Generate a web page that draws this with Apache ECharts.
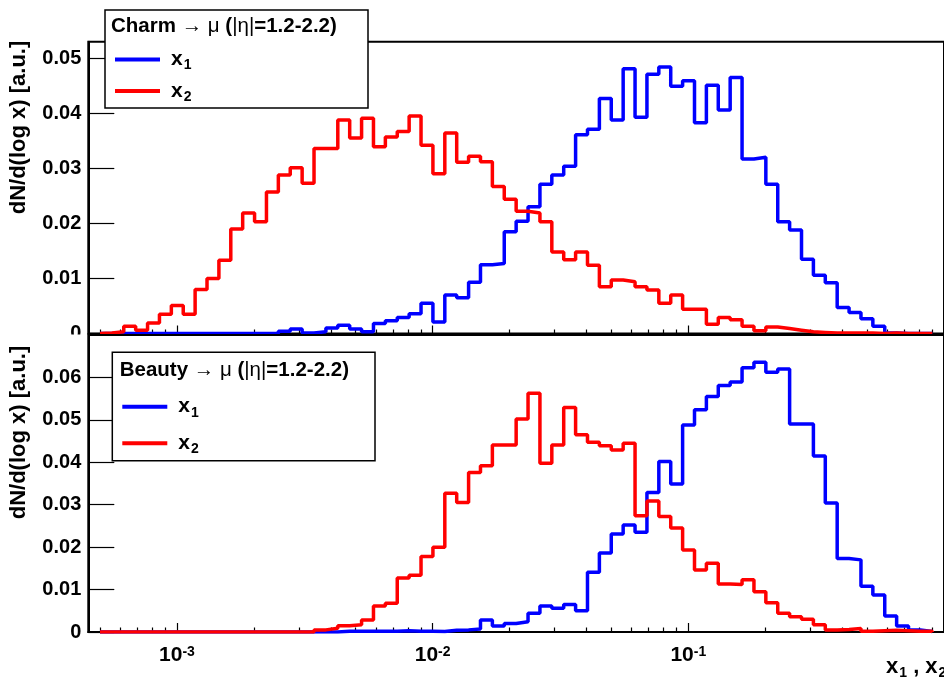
<!DOCTYPE html>
<html><head><meta charset="utf-8">
<script src="https://cdn.jsdelivr.net/npm/echarts@6/dist/echarts.min.js"></script>
<style>html,body{margin:0;padding:0;background:#fff}#c{width:944px;height:683px}</style>
</head><body><div id="c"></div>
<script>
// ---- binning / axis ranges ----
const axisXMin = 4.5e-4, axisXMax = 1;
const binLow = 5e-4, binHigh = 0.9, nBins = 70;
const topYMax = 0.053, bottomYMax = 0.07;
const xMajorTicks = [-3, -2, -1, 0];
const xLabelTicks = [-3, -2, -1];
const topYLabels = [0, 0.01, 0.02, 0.03, 0.04, 0.05];
const bottomYLabels = [0, 0.01, 0.02, 0.03, 0.04, 0.05, 0.06];

// ---- data (bin contents, 70 log-uniform bins from 5e-4 to 0.9) ----
const charmX1 = [0,0,0,0,0,0,0,0,0,0, 0,0,0,0,0,0.0004,0.0008,0.0001,0.0003,0.0010,
  0.0015,0.0008,0.0003,0.0018,0.0023,0.0029,0.0036,0.0055,0.0021,0.0070,
  0.0065,0.0093,0.0125,0.0127,0.0185,0.0204,0.0230,0.0271,0.0288,0.0304,
  0.0361,0.0371,0.0427,0.0388,0.0481,0.0393,0.0471,0.0484,0.0449,0.0459,
  0.0383,0.0451,0.0406,0.0465,0.0317,0.0320,0.0271,0.0203,0.0188,0.0135,
  0.0106,0.0092,0.0047,0.0038,0.0027,0.0013,0.0001,0,0,0];
const charmX2 = [0.0001,0.0003,0.0013,0.0006,0.0019,0.0035,0.0051,0.0035,0.0080,0.0100,
  0.0133,0.0190,0.0219,0.0203,0.0257,0.0288,0.0301,0.0273,0.0336,0.0336,
  0.0388,0.0355,0.0391,0.0339,0.0357,0.0367,0.0395,0.0342,0.0290,0.0364,
  0.0311,0.0322,0.0312,0.0267,0.0244,0.0222,0.0219,0.0203,0.0148,0.0134,
  0.0148,0.0124,0.0085,0.0097,0.0094,0.0085,0.0079,0.0055,0.0070,0.0044,
  0.0044,0.0017,0.0029,0.0025,0.0013,0.0005,0.0012,0.0009,0.0006,0.0003,
  0.0002,0.0001,0.0001,0.0001,0.0001,0,0.0001,0,0,0];
const beautyX1 = [0,0,0,0,0,0,0,0,0,0, 0,0,0,0,0,0,0,0,0,0,
  0.0002,0.0002,0.0002,0.0002,0.0002,0.0003,0.0002,0.0002,0.0001,0.0004,
  0.0005,0.0007,0.0028,0.0014,0.0020,0.0024,0.0044,0.0061,0.0056,0.0065,
  0.0050,0.0141,0.0186,0.0231,0.0252,0.0235,0.0329,0.0402,0.0349,0.0488,
  0.0524,0.0555,0.0581,0.0589,0.0623,0.0636,0.0612,0.0620,0.0490,0.0490,
  0.0415,0.0304,0.0173,0.0170,0.0108,0.0087,0.0038,0.0014,0.0005,0.0001];
const beautyX2 = [0,0,0,0,0,0,0,0,0,0, 0,0,0,0,0,0,0,0,0.0005,0.0009,
  0.0015,0.0017,0.0028,0.0061,0.0068,0.0127,0.0134,0.0178,0.0200,0.0327,
  0.0305,0.0376,0.0392,0.0441,0.0441,0.0502,0.0563,0.0398,0.0441,0.0529,
  0.0465,0.0447,0.0439,0.0429,0.0445,0.0274,0.0309,0.0272,0.0245,0.0193,
  0.0146,0.0162,0.0113,0.0112,0.0123,0.0095,0.0069,0.0044,0.0036,0.0030,
  0.0017,0.0005,0.0006,0.0008,0.0002,0.0003,0.0004,0.0003,0.0002,0.0002];

const legendTitleTop = 'Charm';
const legendTitleBottom = 'Beauty';
const yTitle = 'dN/d(log x) [a.u.]';

// ---- helpers ----
const lg = Math.log10;
const lo = lg(binLow), hi = lg(binHigh), w = (hi - lo) / nBins;
function histData(vals) {
  const d = [[lo, 0]];
  vals.forEach((v, i) => d.push([lo + i * w, v]));
  d.push([lo + nBins * w, vals[vals.length - 1]]);
  d.push([lo + nBins * w, 0]);
  return d;
}
const minorX = [];
for (let e = -4; e <= -1; e++) for (let k = 2; k <= 9; k++) {
  const v = lg(k * Math.pow(10, e));
  if (v > lg(axisXMin) && v < lg(axisXMax)) minorX.push(v);
}
function minorY(max) { const a = []; for (let v = 0.002; v < max - 1e-9; v += 0.002) a.push(+v.toFixed(4)); return a; }

const FONT = "'Liberation Sans', Arial, Helvetica, sans-serif";
const black = '#000';

function xAxes(grid, withLabels, majLen, minLen, z) {
  return [{
    type: 'value', gridIndex: grid, min: lg(axisXMin), max: lg(axisXMax), position: 'bottom', z: z,
    axisLine: { show: true, onZero: false, lineStyle: { color: black, width: 2 } },
    axisTick: { show: true, inside: true, length: majLen, customValues: xMajorTicks, lineStyle: { color: black, width: 1.2 } },
    axisLabel: withLabels ? {
      show: true, customValues: xLabelTicks, margin: 13, color: black,
      formatter: v => '{b|10}{s|' + Math.round(v) + '}',
      rich: { b: { fontSize: 21, fontWeight: 'bold', fontFamily: FONT, color: black },
              s: { fontSize: 14, fontWeight: 'bold', fontFamily: FONT, color: black, verticalAlign: 'top' } }
    } : { show: false },
    splitLine: { show: false }
  }, {
    type: 'value', gridIndex: grid, min: lg(axisXMin), max: lg(axisXMax), position: 'bottom', z: z,
    axisLine: { show: false },
    axisTick: { show: true, inside: true, length: minLen, customValues: minorX, lineStyle: { color: black, width: 1.2 } },
    axisLabel: { show: false }, splitLine: { show: false }
  }];
}
function yAxes(grid, max, labels, z) {
  return [{
    type: 'value', gridIndex: grid, min: 0, max: max, position: 'left', z: z,
    axisLine: { show: true, onZero: false, lineStyle: { color: black, width: 2 } },
    axisTick: { show: true, inside: true, length: 26, customValues: labels, lineStyle: { color: black, width: 1.2 } },
    axisLabel: { show: true, customValues: labels, margin: 7, color: black, fontSize: 20, fontWeight: 'bold', fontFamily: FONT,
      formatter: v => (v === 0 ? '0' : v.toFixed(2)) },
    splitLine: { show: false }
  }, {
    type: 'value', gridIndex: grid, min: 0, max: max, position: 'left', z: z,
    axisLine: { show: false },
    axisTick: { show: true, inside: true, length: 12.5, customValues: minorY(max), lineStyle: { color: black, width: 1.2 } },
    axisLabel: { show: false }, splitLine: { show: false }
  }];
}

function legendGroup(x, y, wd, ht, title, tx, ty, l1y, l2y, z) {
  const sx0 = x + 10, sx1 = x + 55, tX = x + 66;
  return { type: 'group', z: z, children: [
    { type: 'rect', z: z, shape: { x: x, y: y, width: wd, height: ht }, style: { fill: '#fff', stroke: black, lineWidth: 1.5 } },
    { type: 'text', z: z + 1, x: tx, y: ty, style: {
        text: '{b|' + title + ' }{n|→ μ }{b|(}{n||η|}{b|=1.2-2.2)}', verticalAlign: 'middle',
        rich: { b: { fontSize: 20.5, fontWeight: 'bold', fontFamily: FONT, fill: black },
                n: { fontSize: 20.5, fontFamily: FONT, fill: black } } } },
    { type: 'line', z: z + 1, shape: { x1: sx0, y1: l1y, x2: sx1, y2: l1y }, style: { stroke: '#0000ff', lineWidth: 4 } },
    { type: 'text', z: z + 1, x: tX, y: l1y, style: { text: '{b|x}{s|1}', verticalAlign: 'middle',
        rich: { b: { fontSize: 21, fontWeight: 'bold', fontFamily: FONT, fill: black }, s: { fontSize: 14, fontWeight: 'bold', fontFamily: FONT, fill: black, padding: [12, 0, 0, 1] } } } },
    { type: 'line', z: z + 1, shape: { x1: sx0, y1: l2y, x2: sx1, y2: l2y }, style: { stroke: '#ff0000', lineWidth: 4 } },
    { type: 'text', z: z + 1, x: tX, y: l2y, style: { text: '{b|x}{s|2}', verticalAlign: 'middle',
        rich: { b: { fontSize: 21, fontWeight: 'bold', fontFamily: FONT, fill: black }, s: { fontSize: 14, fontWeight: 'bold', fontFamily: FONT, fill: black, padding: [12, 0, 0, 1] } } } }
  ]};
}

const chart = echarts.init(document.getElementById('c'), null, { renderer: 'canvas' });
const gridLeft = 88.3, gridWidth = 860.8;
chart.setOption({
  animation: false,
  backgroundColor: '#fff',
  grid: [
    { left: gridLeft, top: 41.7, width: gridWidth, height: 291.8, show: true, borderColor: black, borderWidth: 2, backgroundColor: 'transparent', z: 0 },
    { left: gridLeft, top: 335, width: gridWidth, height: 297, show: true, borderColor: black, borderWidth: 2, backgroundColor: 'transparent', z: 10 }
  ],
  xAxis: [...xAxes(0, false, 8, 4, 0), ...xAxes(1, true, 9, 4.5, 10)],
  yAxis: [...yAxes(0, topYMax, topYLabels, 0), ...yAxes(1, bottomYMax, bottomYLabels, 10)],
  series: [
    { type: 'line', name: 'x1', xAxisIndex: 0, yAxisIndex: 0, step: 'end', showSymbol: false, symbol: 'none', data: histData(charmX1), lineStyle: { color: '#0000ff', width: 3.5 }, z: 2 },
    { type: 'line', name: 'x2', xAxisIndex: 0, yAxisIndex: 0, step: 'end', showSymbol: false, symbol: 'none', data: histData(charmX2), lineStyle: { color: '#ff0000', width: 3.5 }, z: 3 },
    { type: 'line', name: 'x1', xAxisIndex: 2, yAxisIndex: 2, step: 'end', showSymbol: false, symbol: 'none', data: histData(beautyX1), lineStyle: { color: '#0000ff', width: 3.5 }, z: 12 },
    { type: 'line', name: 'x2', xAxisIndex: 2, yAxisIndex: 2, step: 'end', showSymbol: false, symbol: 'none', data: histData(beautyX2), lineStyle: { color: '#ff0000', width: 3.5 }, z: 13 }
  ],
  graphic: [
    { type: 'rect', z: 5, shape: { x: 0, y: 334.6, width: 944, height: 350 }, style: { fill: '#fff' } },
    { type: 'text', z: 20, x: 19, y: 127.5, rotation: Math.PI / 2, style: { text: yTitle, align: 'center', verticalAlign: 'middle', fontSize: 22, fontWeight: 'bold', fontFamily: FONT, fill: black } },
    { type: 'text', z: 20, x: 19, y: 432.5, rotation: Math.PI / 2, style: { text: yTitle, align: 'center', verticalAlign: 'middle', fontSize: 22, fontWeight: 'bold', fontFamily: FONT, fill: black } },
    { type: 'text', z: 20, x: 886, y: 667, style: { text: '{b|x}{s|1}{b| , x}{s|2}', verticalAlign: 'middle',
        rich: { b: { fontSize: 22, fontWeight: 'bold', fontFamily: FONT, fill: black }, s: { fontSize: 14, fontWeight: 'bold', fontFamily: FONT, fill: black, padding: [12, 0, 0, 1] } } } },
    legendGroup(105, 10, 263, 98, legendTitleTop, 111, 26, 59.5, 91, 30),
    legendGroup(112.3, 352.3, 262.7, 108.4, legendTitleBottom, 119.7, 370.5, 406.7, 443.3, 30)
  ]
});
</script></body></html>
